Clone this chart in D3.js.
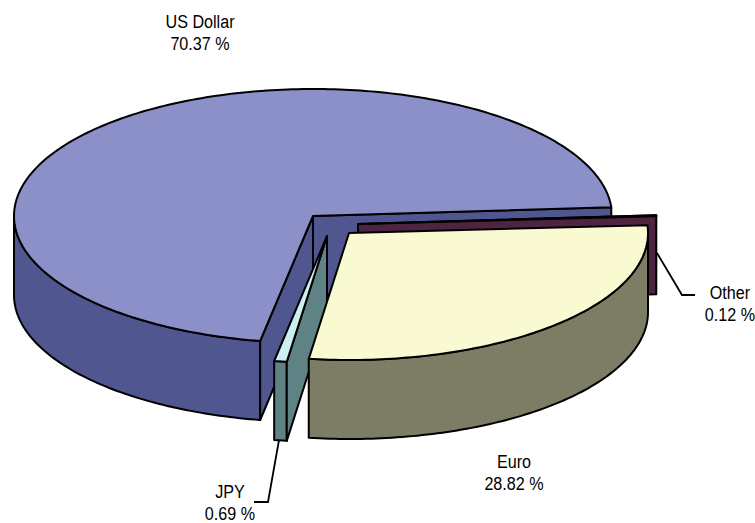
<!DOCTYPE html>
<html><head><meta charset="utf-8">
<script src="https://cdn.jsdelivr.net/npm/d3@7"></script>
<style>html,body{margin:0;background:#fff}svg{display:block}
text{font-family:"Liberation Sans",Arial,sans-serif;font-size:19px;fill:#000;text-anchor:middle}</style>
</head><body><svg id="c" width="755" height="523"></svg>
<script>
const categories = ["Euro", "JPY", "US Dollar", "Other"];
const shares = [28.82, 0.69, 70.37, 0.12];
const tickLabels = ["28.82 %", "0.69 %", "70.37 %", "0.12 %"];

// presentation
const rx = 299, ry = 127, depth = 79, firstAngle = -3.5, warp = 3.2;
const centers = {"Euro":[349,233], "JPY":[327,236], "US Dollar":[313,216], "Other":[358,224]};
const topFill = {"Euro":"#fafad2", "JPY":"#ccf0f2", "US Dollar":"#8c90c8", "Other":"#5a2a48"};
const sideFill = {"Euro":"#7d7d65", "JPY":"#5f8285", "US Dollar":"#4f5690", "Other":"#4e2440"};
const labelPos = {"Euro":[514,468], "JPY":[230,498], "US Dollar":[200,28], "Other":[730,299]};
const leaders = {"JPY":[[279,440],[268,502],[254,502]], "Other":[[657,253],[682,295],[695,295]]};

const svg = d3.select("#c");
const rad = d => d*Math.PI/180, deg = r => r*180/Math.PI;
const arcs = d3.pie().sort(null).startAngle(rad(firstAngle+90)).endAngle(rad(firstAngle+450))(shares);
const slices = categories.map((name,i)=>{
  const a = deg(arcs[i].startAngle)-90, b = deg(arcs[i].endAngle)-90;
  const adj = t => t - warp*Math.sin(rad(t-firstAngle)/2);  // foreshortening of the tilted disc
  return {name, t0:adj(a), t1:adj(b), c:centers[name]};
});
const line = d3.line();
const pt = (s,t,z=0)=>[s.c[0]+rx*Math.cos(rad(t)), s.c[1]+ry*Math.sin(rad(t))+z];
const samples = (s,a,b,z=0)=>{ const n=Math.max(2,Math.ceil(Math.abs(b-a)));
  return d3.range(n+1).map(i=>pt(s,a+(b-a)*i/n,z)); };
const shape = (pts,fill)=>svg.append("path").attr("d",line(pts)+"Z").attr("fill",fill)
  .attr("stroke","#000").attr("stroke-width",2).attr("stroke-linejoin","round");
const wall = s=>{ const a=Math.max(s.t0,0), b=Math.min(s.t1,180); if(b<=a) return;
  shape([...samples(s,a,b),...samples(s,b,a,depth)], sideFill[s.name]); };
const cut = (s,t)=>{ const p=pt(s,t); shape([s.c,p,[p[0],p[1]+depth],[s.c[0],s.c[1]+depth]], sideFill[s.name]); };
const top_ = s=>shape([s.c,...samples(s,s.t0,s.t1)], topFill[s.name]);
const by = n=>slices.find(s=>s.name===n);

const usd=by("US Dollar"), oth=by("Other"), jpy=by("JPY"), eur=by("Euro");
cut(usd,usd.t1); wall(usd); cut(usd,usd.t0); top_(usd);
cut(oth,oth.t0); top_(oth);
wall(jpy); cut(jpy,jpy.t0); top_(jpy);
wall(eur); top_(eur);

Object.entries(leaders).forEach(([k,p])=>svg.append("path").attr("d",line(p)).attr("fill","none")
  .attr("stroke","#000").attr("stroke-width",1.8));
categories.forEach((name,i)=>{
  const [x,y]=labelPos[name];
  const g=svg.append("g").attr("transform",`translate(${x},${y}) scale(0.85,1)`);
  g.append("text").text(name);
  g.append("text").attr("y",22).text(tickLabels[i]);
});
</script></body></html>
